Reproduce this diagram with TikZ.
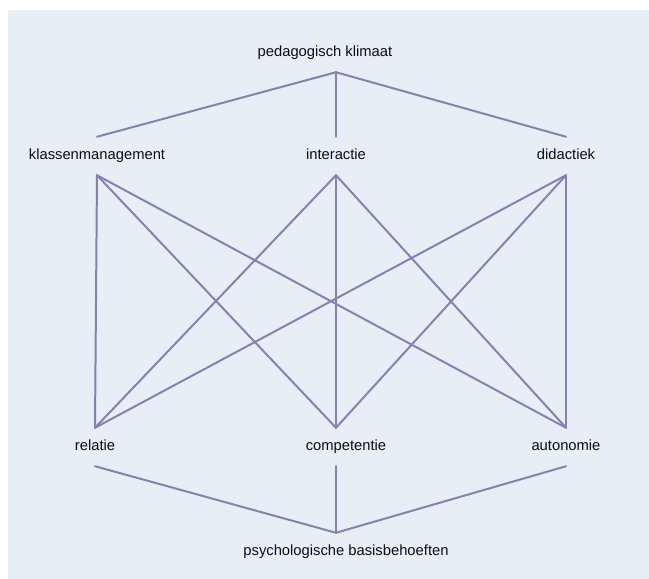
\documentclass[tikz,border=0pt]{standalone}
\usepackage{fontspec}
\setmainfont{Liberation Sans}
\definecolor{linelilac}{RGB}{136,128,174}
\definecolor{bgblue}{RGB}{232,238,246}
\usetikzlibrary{positioning}

\begin{document}
\begin{tikzpicture}[
    lbl/.style={minimum height=1.14cm, inner sep=0pt, text height=0.72em, text depth=0.2em, font=\fontsize{12.6}{14}\selectfont, text=black!95},
    con/.style={draw=linelilac, line width=1.7pt, line cap=round},
    on grid
]
    \useasboundingbox (-10.08,4.68) rectangle (9.39,-12.69);
    \fill[bgblue] (-9.84,4.38) rectangle (9.39,-12.69);
    % upper row
    \node[lbl] (inter) at (0,0) {interactie};
    \node[lbl, above=3.09cm of inter, xshift=-0.33cm] (pk) {pedagogisch klimaat};
    \node[lbl, left=7.17cm of inter] (km) {klassenmanagement};
    \node[lbl, right=6.9cm of inter] (did) {didactiek};
    % lower row
    \node[lbl, below=8.73cm of inter, xshift=0.3cm] (comp) {competentie};
    \node[lbl, below=8.73cm of km, xshift=-0.06cm] (rel) {relatie};
    \node[lbl, below=8.73cm of did] (aut) {autonomie};
    \node[lbl, below=3.15cm of comp] (psb) {psychologische basisbehoeften};
    % connectors
    \foreach \a in {km, inter, did}
        \draw[con] (pk.south -| inter) -- (\a.north);
    \foreach \a in {km, inter, did}
        \foreach \b/\c in {rel/rel, comp/inter, aut/aut}
            \draw[con] (\a.south) -- (\b.north -| \c);
    \foreach \b/\c in {rel/rel, comp/inter, aut/aut}
        \draw[con] (\b.south -| \c) -- (psb.north -| inter);
\end{tikzpicture}
\end{document}
